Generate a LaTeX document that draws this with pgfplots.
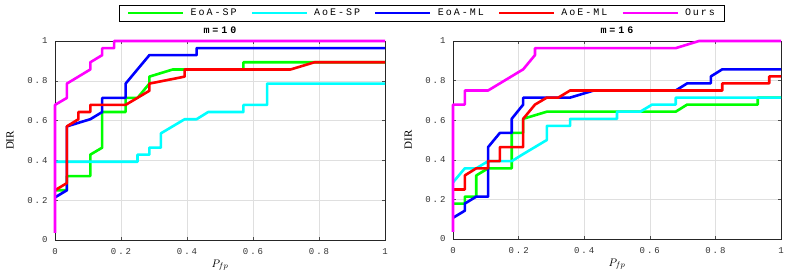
\documentclass[border=0pt]{standalone}
\usepackage{fontspec}
\setmainfont{Liberation Serif}
\newfontfamily\legfont[LetterSpace=20]{Liberation Mono}
\newfontfamily\tickfont[LetterSpace=22]{Liberation Mono}
\newfontfamily\ttlfont[LetterSpace=30]{Liberation Mono}
\usepackage{pgfplots}
\pgfplotsset{compat=1.18}
\definecolor{cgreen}{RGB}{0,255,0}
\definecolor{ccyan}{RGB}{0,255,255}
\definecolor{cblue}{RGB}{0,0,255}
\definecolor{cred}{RGB}{255,0,0}
\definecolor{cmag}{RGB}{255,0,255}
\pgfplotsset{
  myax/.style={
    scale only axis,
    xmin=0, xmax=1, ymin=0, ymax=1,
    xtick={0,0.2,0.4,0.6,0.8,1},
    xticklabels={0,0.2,0.4,0.6,0.8,1},
    ytick={0,0.2,0.4,0.6,0.8,1},
    yticklabels={0,0.2,0.4,0.6,0.8,1},
    grid=major,
    major grid style={gray!25, line width=0.6pt},
    axis line style={black!85, line width=0.7pt},
    tick style={black!70, line width=0.6pt},
    tick align=inside,
    major tick length=3pt,
    ticklabel style={font=\tickfont\fontsize{9}{9}\selectfont, text=black!80},
    xticklabel style={yshift=-5pt},
    yticklabel style={xshift=-4pt},
    clip=false,
    every axis plot/.append style={line width=2.6pt, line join=round},
    title style={at={(axis description cs:0.5,1)}, anchor=south, yshift=-2pt, font=\ttlfont\bfseries\fontsize{10}{10}\selectfont},
    xlabel={$P_{fp}$},
    xlabel style={at={(axis description cs:0.5,-0.126)}, anchor=center, font=\fontsize{11}{11}\selectfont},
    ylabel={DIR},
    ylabel style={at={(axis description cs:-0.136,0.5)}, anchor=center, font=\fontsize{11}{11}\selectfont},
    legend image code/.code={\draw[#1] (0pt,0pt) -- (55pt,0pt);},
  }
}
\begin{document}
\begin{tikzpicture}
\path[use as bounding box] (0,0) rectangle (789pt,-273pt);
\begin{axis}[myax,
  at={(55pt,-240pt)}, anchor=south west,
  width=330pt, height=199pt,
  title={m=10},
  legend columns=5,
  legend style={at={(1.1106,1.1407)}, anchor=center, draw=black, line width=0.8pt,
    fill=white, font=\legfont\fontsize{10}{10}\selectfont,
    inner xsep=8pt, inner ysep=3pt,
    nodes={inner sep=1pt},
    /tikz/every odd column/.append style={column sep=5pt},
    /tikz/every even column/.append style={column sep=13pt}},
  legend cell align=left,
]
\addplot[cgreen] coordinates {(0,0.25)(0.036,0.25)(0.036,0.321)(0.107,0.321)(0.107,0.429)(0.143,0.464)(0.143,0.643)(0.214,0.643)(0.214,0.714)(0.25,0.714)(0.286,0.786)(0.286,0.821)(0.357,0.857)(0.571,0.857)(0.571,0.893)(1,0.893)};
\addlegendentry{EoA-SP}
\addplot[ccyan] coordinates {(0,0.393)(0.25,0.393)(0.25,0.429)(0.286,0.429)(0.286,0.464)(0.321,0.464)(0.321,0.536)(0.393,0.607)(0.429,0.607)(0.464,0.643)(0.571,0.643)(0.571,0.679)(0.643,0.679)(0.643,0.786)(1,0.786)};
\addlegendentry{AoE-SP}
\addplot[cblue] coordinates {(0,0.214)(0.036,0.25)(0.036,0.571)(0.107,0.607)(0.143,0.643)(0.143,0.714)(0.214,0.714)(0.214,0.786)(0.286,0.929)(0.429,0.929)(0.429,0.964)(1,0.964)};
\addlegendentry{EoA-ML}
\addplot[cred] coordinates {(0,0.25)(0.036,0.286)(0.036,0.571)(0.071,0.607)(0.071,0.643)(0.107,0.643)(0.107,0.679)(0.214,0.679)(0.286,0.75)(0.286,0.786)(0.393,0.821)(0.393,0.857)(0.714,0.857)(0.786,0.893)(1,0.893)};
\addlegendentry{AoE-ML}
\addplot[cmag] coordinates {(0,0.036)(0,0.679)(0.036,0.714)(0.036,0.786)(0.107,0.857)(0.107,0.893)(0.143,0.929)(0.143,0.964)(0.179,0.964)(0.179,1)(1,1)};
\addlegendentry{Ours}
\end{axis}
\begin{axis}[myax,
  at={(453pt,-239pt)}, anchor=south west,
  width=328pt, height=198pt,
  title={m=16},
]
\addplot[cgreen] coordinates {(0,0.179)(0.036,0.179)(0.036,0.214)(0.071,0.214)(0.071,0.321)(0.107,0.357)(0.179,0.357)(0.179,0.536)(0.214,0.536)(0.214,0.607)(0.286,0.643)(0.679,0.643)(0.714,0.679)(0.929,0.679)(0.929,0.714)(1,0.714)};
\addplot[ccyan] coordinates {(0,0.286)(0.036,0.357)(0.071,0.357)(0.107,0.393)(0.179,0.393)(0.214,0.429)(0.286,0.5)(0.286,0.571)(0.357,0.571)(0.357,0.607)(0.5,0.607)(0.5,0.643)(0.571,0.643)(0.607,0.679)(0.679,0.679)(0.679,0.714)(1,0.714)};
\addplot[cblue] coordinates {(0,0.107)(0.036,0.143)(0.036,0.179)(0.071,0.214)(0.107,0.214)(0.107,0.464)(0.143,0.536)(0.179,0.536)(0.179,0.607)(0.214,0.679)(0.214,0.714)(0.357,0.714)(0.429,0.75)(0.679,0.75)(0.714,0.786)(0.786,0.786)(0.786,0.821)(0.821,0.857)(1,0.857)};
\addplot[cred] coordinates {(0,0.25)(0.036,0.25)(0.036,0.321)(0.071,0.357)(0.107,0.357)(0.107,0.393)(0.143,0.393)(0.143,0.464)(0.214,0.464)(0.214,0.607)(0.25,0.679)(0.286,0.714)(0.321,0.714)(0.357,0.75)(0.821,0.75)(0.821,0.786)(0.964,0.786)(0.964,0.821)(1,0.821)};
\addplot[cmag] coordinates {(0,0.036)(0,0.679)(0.036,0.679)(0.036,0.75)(0.107,0.75)(0.214,0.857)(0.25,0.929)(0.25,0.964)(0.679,0.964)(0.75,1)(1,1)};
\end{axis}
\end{tikzpicture}
\end{document}
